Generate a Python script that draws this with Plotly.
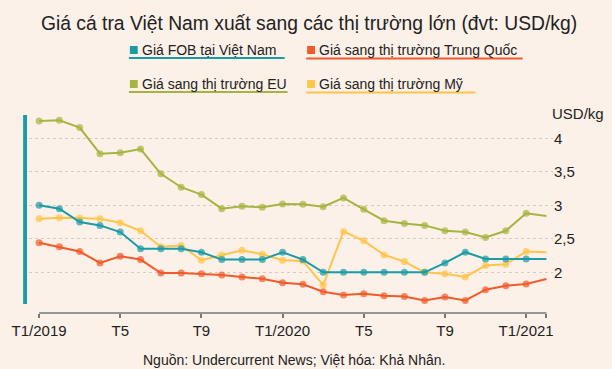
import plotly.graph_objects as go

months = ["T1/2019", "T2", "T3", "T4", "T5", "T6", "T7", "T8", "T9", "T10", "T11", "T12",
          "T1/2020", "T2", "T3", "T4", "T5", "T6", "T7", "T8", "T9", "T10", "T11", "T12",
          "T1/2021", "T2/2021"]

fob_vn = [3.00, 2.95, 2.75, 2.70, 2.60, 2.35, 2.35, 2.35, 2.30, 2.19, 2.19, 2.19, 2.30,
          2.19, 2.00, 2.00, 2.00, 2.00, 2.00, 2.00, 2.14, 2.30, 2.20, 2.20, 2.20, 2.20]
china = [2.44, 2.38, 2.31, 2.14, 2.24, 2.19, 1.99, 1.99, 1.98, 1.96, 1.93, 1.905, 1.845,
         1.82, 1.71, 1.66, 1.68, 1.65, 1.64, 1.58, 1.63, 1.58, 1.74, 1.80, 1.825, 1.90]
eu = [4.26, 4.27, 4.16, 3.77, 3.785, 3.84, 3.47, 3.27, 3.16, 2.95, 2.985, 2.97, 3.02,
      3.015, 2.98, 3.11, 2.94, 2.77, 2.73, 2.70, 2.62, 2.60, 2.52, 2.62, 2.88, 2.84]
usa = [2.80, 2.815, 2.81, 2.80, 2.74, 2.62, 2.38, 2.40, 2.18, 2.26, 2.33, 2.27, 2.18,
       2.17, 1.81, 2.61, 2.47, 2.26, 2.16, 2.00, 1.98, 1.93, 2.10, 2.12, 2.31, 2.30]

series_names = ["Giá FOB tại Việt Nam", "Giá sang thị trường Trung Quốc",
                "Giá sang thị trường EU", "Giá sang thị trường Mỹ"]
tick_vals_x = [0, 4, 8, 12, 16, 20, 24, 25]
tick_text_x = ["T1/2019", "T5", "T9", "T1/2020", "T5", "T9", "T1/2021", ""]
tick_vals_y = [2, 2.5, 3, 3.5, 4]
tick_text_y = ["2", "2,5", "3", "3,5", "4"]

TEAL = "#1A9BA6"
RED = "#F15A29"
GREEN = "#A7B440"
YELLOW = "#FFC54A"
BG = "#FCF1E8"
FONT = "Liberation Sans, Arial, sans-serif"

W, H = 612, 369
L, R, T, B = 18, 59, 110, 56
PW, PH = W - L - R, H - T - B


def px(x):
    return (x - L) / PW


def py(y):
    return (H - B - y) / PH


xs = list(range(len(months)))
n = len(xs)
sizes = [7] * (n - 1) + [0]

fig = go.Figure()
order = [(eu, GREEN), (usa, YELLOW), (fob_vn, TEAL), (china, RED)]
for vals, col in order:
    fig.add_trace(go.Scatter(
        x=xs, y=vals, mode="lines+markers",
        line=dict(color=col, width=2),
        marker=dict(color=col, size=sizes, line=dict(width=0)),
        showlegend=False, hoverinfo="skip"))

ymin = 2 - (313 - 272.3) / 67
ymax = ymin + PH / 67
xmin = (L - 28.3) / 20.72
xmax = (W - R - 28.3) / 20.72

fig.update_layout(
    width=W, height=H,
    margin=dict(l=L, r=R, t=T, b=B),
    paper_bgcolor=BG, plot_bgcolor=BG,
    font=dict(family=FONT, color="#222", size=14),
    xaxis=dict(range=[xmin, xmax], tickvals=tick_vals_x, ticktext=tick_text_x,
               showgrid=False, zeroline=False, showline=False,
               ticks="outside", ticklen=4, tickwidth=1.5, tickcolor="#777",
               tickfont=dict(size=15, color="#222")),
    yaxis=dict(range=[ymin, ymax], side="right", tickvals=tick_vals_y, ticktext=tick_text_y,
               showgrid=True, gridcolor="#d6ccc2", griddash="dot", gridwidth=1,
               zeroline=False, showline=False, ticks="",
               tickfont=dict(size=15, color="#222")),
)

# x axis line (spans only the data months)
fig.add_shape(type="line", xref="x", yref="paper", x0=0, x1=25, y0=0, y1=0,
              line=dict(color="#777", width=1.5))
# decorative bar at left
fig.add_shape(type="rect", xref="paper", yref="paper", x0=px(12), x1=px(16),
              y0=py(304), y1=py(115), fillcolor=TEAL, line=dict(width=0))

# title
fig.add_annotation(text="Giá cá tra Việt Nam xuất sang các thị trường lớn (đvt: USD/kg)",
                   xref="paper", yref="paper", x=px(304), y=py(23), xanchor="center",
                   yanchor="middle", showarrow=False, font=dict(size=19.3, color="#222"))
# units
fig.add_annotation(text="USD/kg", xref="paper", yref="paper", x=px(579), y=py(113),
                   xanchor="center", yanchor="middle", showarrow=False,
                   font=dict(size=15, color="#222"))
# source
fig.add_annotation(text="Nguồn: Undercurrent News; Việt hóa: Khả Nhân.",
                   xref="paper", yref="paper", x=px(289), y=py(360), xanchor="center",
                   yanchor="middle", showarrow=False, font=dict(size=14, color="#222"))

# custom legend
legend_items = [
    (series_names[0], TEAL, 121, 50, 279, 58),
    (series_names[1], RED, 302, 50, 522, 58.5),
    (series_names[2], GREEN, 121, 84, 282, 92),
    (series_names[3], YELLOW, 302, 84, 474, 92.5),
]
for name, col, x0, yc, xend, yline in legend_items:
    fig.add_shape(type="rect", xref="paper", yref="paper", x0=px(x0), x1=px(x0 + 8),
                  y0=py(yc + 4), y1=py(yc - 4), fillcolor=col, line=dict(width=0))
    fig.add_shape(type="line", xref="paper", yref="paper", x0=px(x0 - 1), x1=px(xend),
                  y0=py(yline), y1=py(yline), line=dict(color=col, width=2))
    fig.add_annotation(text=name, xref="paper", yref="paper", x=px(x0 + 10), y=py(yc),
                       xanchor="left", yanchor="middle", showarrow=False,
                       font=dict(size=14, color="#222"))

fig.write_html("out.html", config={"displayModeBar": False},
               post_script="document.body.style.margin='0';document.body.style.overflow='hidden';")
